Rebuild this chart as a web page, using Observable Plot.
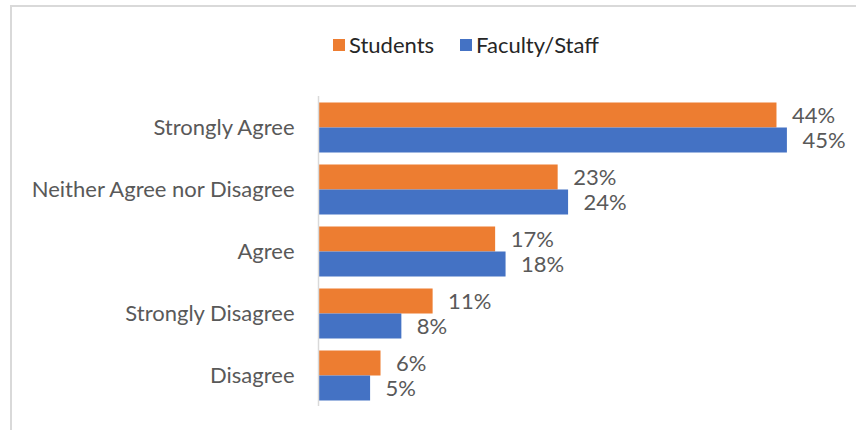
<!DOCTYPE html>
<html>
<head>
<meta charset="utf-8">
<script src="https://cdn.jsdelivr.net/npm/d3@7"></script>
<script src="https://cdn.jsdelivr.net/npm/@observablehq/plot@0.6"></script>
<style>
  html, body { margin: 0; padding: 0; background: #fff; }
  #wrap { position: relative; width: 856px; height: 430px; overflow: hidden; font-family: Lato, "Open Sans", sans-serif; color: #595959; }
  #border { position: absolute; left: 10px; top: 5px; right: -10px; bottom: -10px; border-top: 2px solid #d9d9d9; border-left: 2px solid #d9d9d9; }
  #legend { position: absolute; top: 31px; left: 333px; display: flex; align-items: center; font-size: 22px; color: #262626; white-space: nowrap; }
  #legend .item { display: flex; align-items: center; margin-right: 26px; }
  #legend .sw { width: 12px; height: 12px; margin-right: 4px; }
  #chart { position: absolute; left: 0; top: 0; }
</style>
</head>
<body>
<div id="wrap">
  <div id="border"></div>
  <div id="legend"></div>
  <div id="chart"></div>
</div>
<script>
const categories = ["Strongly Agree", "Neither Agree nor Disagree", "Agree", "Strongly Disagree", "Disagree"];
const series = ["Students", "Faculty/Staff"];
const colors = ["#ED7D31", "#4472C4"];
const studentsValues = [44, 23, 17, 11, 6];
const facultyValues = [45, 24, 18, 8, 5];

const data = [];
categories.forEach((c, i) => {
  data.push({category: c, series: series[0], value: studentsValues[i]});
  data.push({category: c, series: series[1], value: facultyValues[i]});
});

const legend = document.getElementById("legend");
series.forEach((s, i) => {
  const item = document.createElement("div");
  item.className = "item";
  const sw = document.createElement("span");
  sw.className = "sw";
  sw.style.background = colors[i];
  const t = document.createElement("span");
  t.textContent = s;
  item.appendChild(sw);
  item.appendChild(t);
  legend.appendChild(item);
});

const chart = Plot.plot({
  width: 856,
  height: 430,
  marginLeft: 318,
  marginRight: 17,
  marginTop: 95.5,
  marginBottom: 24.5,
  style: {fontFamily: "Lato, 'Open Sans', sans-serif", fontSize: "22px", color: "#595959", background: "transparent", overflow: "visible"},
  x: {domain: [0, 50], axis: null},
  y: {domain: series, axis: null, paddingInner: 0, paddingOuter: 0.216},
  fy: {domain: categories, padding: 0, axis: "left", label: null, tickSize: 0, tickPadding: 24},
  color: {domain: series, range: colors},
  marks: [
    Plot.barX(data, {x: "value", y: "series", fy: "category", fill: "series"}),
    Plot.ruleX([0], {stroke: "#d9d9d9", strokeWidth: 1.5}),
    Plot.text(data, {x: "value", y: "series", fy: "category", text: d => d.value + "%", textAnchor: "start", dx: 15, fill: "#595959"})
  ]
});
document.getElementById("chart").appendChild(chart);
</script>
</body>
</html>
